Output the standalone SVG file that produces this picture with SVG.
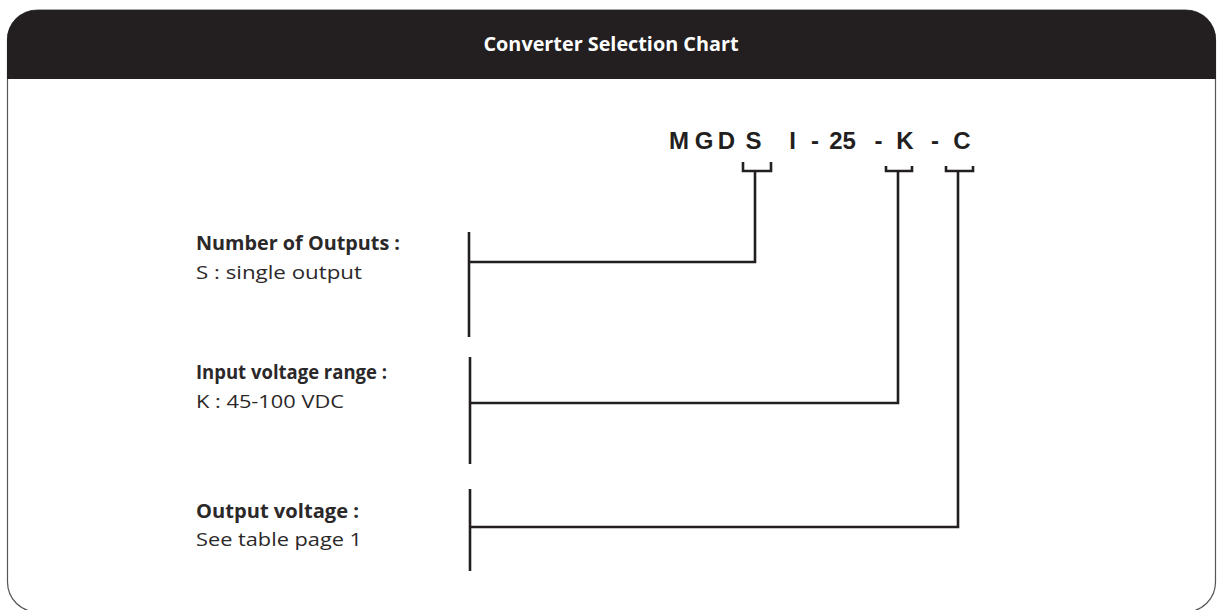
<svg xmlns="http://www.w3.org/2000/svg" width="1217" height="610" viewBox="0 0 1217 610">
<style>
.lbl{font-family:"Open Sans","Liberation Sans",sans-serif;font-size:19px;fill:#2b2829}
.b{font-weight:bold}
.pn{font-family:"Liberation Sans",Arial,sans-serif;font-weight:bold;font-size:24px;fill:#231f20;text-anchor:middle}
.ln{fill:none;stroke:#231f20;stroke-width:2.6;stroke-linecap:butt;stroke-linejoin:miter}
</style>
<rect width="1217" height="610" fill="#ffffff"/>
<g id="frame">
<rect x="7.5" y="10" width="1208" height="602" rx="30" ry="30" fill="#ffffff" stroke="#555555" stroke-width="1.2"/>
<path d="M7,79 V40 A30,30 0 0 1 37,10 H1186 A30,30 0 0 1 1216,40 V79 Z" fill="#231f20"/>
<text x="611" y="51" font-family="Open Sans, Liberation Sans, sans-serif" font-weight="bold" font-size="19" fill="#ffffff" text-anchor="middle" textLength="255" lengthAdjust="spacingAndGlyphs">Converter Selection Chart</text>
</g>
<g id="part-number">
<text class="pn" x="679" y="149">M</text>
<text class="pn" x="704" y="149">G</text>
<text class="pn" x="726.5" y="149">D</text>
<text class="pn" x="753.5" y="149">S</text>
<text class="pn" x="792.5" y="149">I</text>
<text class="pn" x="815" y="149">-</text>
<text class="pn" x="842.5" y="149">25</text>
<text class="pn" x="878.5" y="149">-</text>
<text class="pn" x="905" y="149">K</text>
<text class="pn" x="935" y="149">-</text>
<text class="pn" x="962" y="149">C</text>
</g>
<g id="node-outputs">
<text class="lbl b" x="196" y="250" textLength="204" lengthAdjust="spacingAndGlyphs">Number of Outputs :</text>
<text class="lbl" x="196" y="279" textLength="166" lengthAdjust="spacingAndGlyphs">S : single output</text>
<line class="ln" x1="469" y1="232" x2="469" y2="337"/>
</g>
<g id="node-input">
<text class="lbl b" x="196" y="379" textLength="191" lengthAdjust="spacingAndGlyphs">Input voltage range :</text>
<text class="lbl" x="196" y="408" textLength="148" lengthAdjust="spacingAndGlyphs">K : 45-100 VDC</text>
<line class="ln" x1="470" y1="357" x2="470" y2="464"/>
</g>
<g id="node-output-voltage">
<text class="lbl b" x="196" y="518" textLength="163" lengthAdjust="spacingAndGlyphs">Output voltage :</text>
<text class="lbl" x="196" y="546" textLength="166" lengthAdjust="spacingAndGlyphs">See table page 1</text>
<line class="ln" x1="470" y1="489" x2="470" y2="571"/>
</g>
<g id="connectors">
<path class="ln" d="M743,162 V171 H771 V162"/>
<path class="ln" d="M755,171 V262 H469"/>
<path class="ln" d="M886,166 V171 H912 V166"/>
<path class="ln" d="M898,171 V403 H470"/>
<path class="ln" d="M946,166 V171 H973 V166"/>
<path class="ln" d="M958,171 V527 H470"/>
</g>
</svg>
